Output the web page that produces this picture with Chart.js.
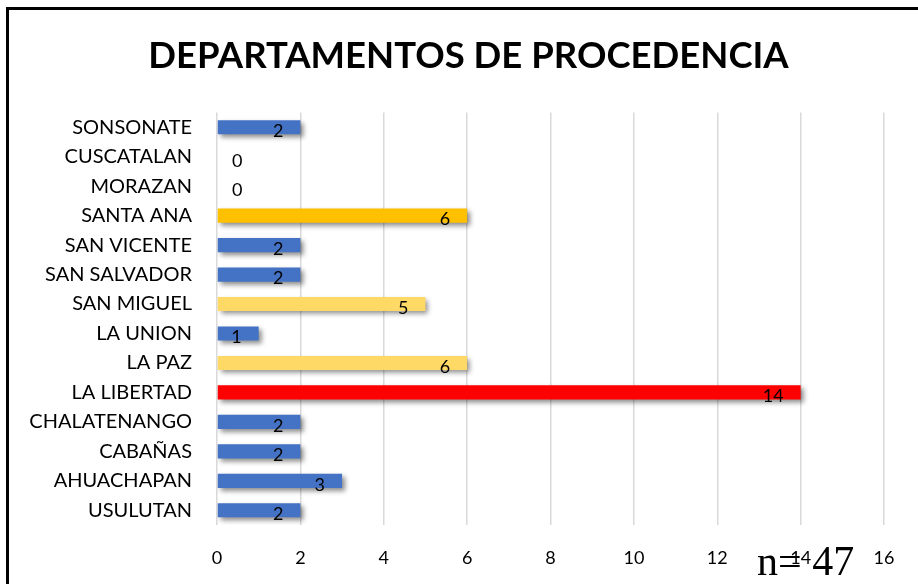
<!DOCTYPE html>
<html>
<head>
<meta charset="utf-8">
<script src="https://cdn.jsdelivr.net/npm/chart.js@4.4.1/dist/chart.umd.min.js"></script>
<style>
  html, body { margin: 0; padding: 0; background: #fff; overflow: hidden; }
  #wrap { position: relative; width: 918px; height: 584px; }
  #frame { position: absolute; left: 6px; top: 7px; width: 1000px; height: 1000px; border: 3px solid #000; box-sizing: border-box; pointer-events: none; }
  #n { position: absolute; left: 757px; top: 537px; font-family: "Liberation Serif", "DejaVu Serif", serif; font-size: 42px; line-height: 48px; color: #000; white-space: pre; }
</style>
</head>
<body>
<div id="wrap">
  <canvas id="c" width="918" height="584"></canvas>
  <div id="frame"></div>
  <div id="n">n= 47</div>
</div>
<script>
const categories = ["SONSONATE", "CUSCATALAN", "MORAZAN", "SANTA ANA", "SAN VICENTE", "SAN SALVADOR", "SAN MIGUEL", "LA UNION", "LA PAZ", "LA LIBERTAD", "CHALATENANGO", "CABAÑAS", "AHUACHAPAN", "USULUTAN"];
const values = [2, 0, 0, 6, 2, 2, 5, 1, 6, 14, 2, 2, 3, 2];
const xTicks = [0, 2, 4, 6, 8, 10, 12, 14, 16];
const titleText = "DEPARTAMENTOS DE PROCEDENCIA";

const BLUE = "#4472C4", GOLD = "#FFC000", LIGHT = "#FFD966", RED = "#FF0000";
const barColors = [BLUE, BLUE, BLUE, GOLD, BLUE, BLUE, LIGHT, BLUE, LIGHT, RED, BLUE, BLUE, BLUE, BLUE];

const shadowPlugin = {
  id: "shadow",
  beforeDatasetDraw(chart) {
    const ctx = chart.ctx;
    ctx.save();
    ctx.shadowColor = "rgba(0,0,0,0.45)";
    ctx.shadowBlur = 5;
    ctx.shadowOffsetX = 3;
    ctx.shadowOffsetY = 3;
  },
  afterDatasetDraw(chart) {
    chart.ctx.restore();
  }
};

const titlePlugin = {
  id: "topTitle",
  afterDraw(chart) {
    const ctx = chart.ctx;
    ctx.save();
    ctx.font = "bold 36.5px Lato";
    ctx.fillStyle = "#000";
    ctx.textAlign = "center";
    ctx.textBaseline = "alphabetic";
    ctx.fillText(titleText, 468.5, 68);
    ctx.restore();
  }
};

const labelPlugin = {
  id: "valueLabels",
  afterDatasetsDraw(chart) {
    const ctx = chart.ctx;
    const meta = chart.getDatasetMeta(0);
    ctx.save();
    ctx.font = "18px Lato";
    ctx.fillStyle = "#000";
    ctx.textBaseline = "middle";
    meta.data.forEach((bar, i) => {
      const v = values[i];
      if (v > 0) {
        ctx.textAlign = "right";
        ctx.fillText(String(v), bar.x - 17, bar.y + 4);
      } else {
        ctx.textAlign = "left";
        ctx.fillText(String(v), bar.base + 15, bar.y + 4);
      }
    });
    ctx.restore();
  }
};

new Chart(document.getElementById("c"), {
  type: "bar",
  data: {
    labels: categories,
    datasets: [{
      data: values,
      backgroundColor: barColors,
      borderWidth: 0,
      categoryPercentage: 1,
      barPercentage: 0.48
    }]
  },
  plugins: [shadowPlugin, labelPlugin, titlePlugin],
  options: {
    indexAxis: "y",
    responsive: false,
    animation: false,
    layout: { padding: { left: 0, right: 34, top: 112.5, bottom: 0 } },
    plugins: {
      legend: { display: false },
      tooltip: { enabled: false },
      title: { display: false }
    },
    scales: {
      x: {
        min: 0,
        max: 16,
        afterBuildTicks(scale) { scale.ticks = xTicks.map(v => ({ value: v })); },
        afterFit(scale) { scale.height = 59; },
        grid: { color: "#d9d9d9", lineWidth: 1.5, drawTicks: false },
        border: { display: false },
        ticks: { color: "#000", font: { family: "Lato", size: 18 }, padding: 22 }
      },
      y: {
        afterFit(scale) { scale.width = 217; },
        grid: { display: false, drawTicks: false },
        border: { display: false },
        ticks: { color: "#000", font: { family: "Lato", size: 20 }, padding: 25, crossAlign: "near" }
      }
    }
  }
});
</script>
</body>
</html>
